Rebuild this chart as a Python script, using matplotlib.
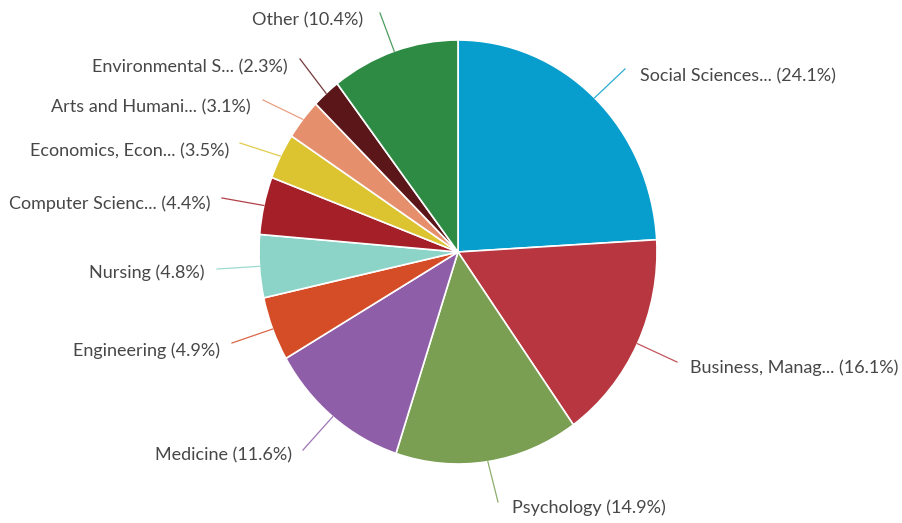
import numpy as np
import matplotlib.pyplot as plt

# data
subjects = ['Social Sciences...', 'Business, Manag...', 'Psychology', 'Medicine',
            'Engineering', 'Nursing', 'Computer Scienc...', 'Economics, Econ...',
            'Arts and Humani...', 'Environmental S...', 'Other']
shares = [24.1, 16.1, 14.9, 11.6, 4.9, 4.8, 4.4, 3.5, 3.1, 2.3, 10.4]
colors = ['#079dcc', '#b8363f', '#7a9f52', '#8e5ea8', '#d44d27', '#8dd4c8',
          '#a51f28', '#dcc330', '#e58f6d', '#5a1618', '#2e8b44']

# layout in image pixels (from top-left): pie centre / radii, label anchors and leader ends
W, H = 903, 523
CX, CY, RX, RY = 458, 252, 199, 212
label_xy = [(640, 76), (690, 368), (512, 508), (292, 455), (220, 351), (205, 273),
            (211, 204), (229, 151), (251, 107), (288, 67), (363, 20)]
line_end = [(625, 69), (677, 362), (498, 502), (303, 450), (232, 343), (217, 269),
            (222, 198), (240, 143), (263, 100), (300, 59), (380, 13)]


def px(p):
    return ((p[0] - CX) / RX, (CY - p[1]) / RY)


fig = plt.figure(figsize=(W / 100, H / 100), dpi=100)
ax = fig.add_axes([0, 0, 1, 1])
wedges, _ = ax.pie(shares, colors=colors, startangle=90, counterclock=False,
                   wedgeprops=dict(edgecolor='white', linewidth=1.2))
ax.set_aspect('auto')
ax.set_xlim(-CX / RX, (W - CX) / RX)
ax.set_ylim(-(H - CY) / RY, CY / RY)
ax.axis('off')

for w, name, val, txt, end in zip(wedges, subjects, shares, label_xy, line_end):
    mid = np.deg2rad((w.theta1 + w.theta2) / 2)
    start = (np.cos(mid), np.sin(mid))
    ex, ey = px(end)
    ax.plot([start[0], ex], [start[1], ey], color=w.get_facecolor(), lw=0.9, alpha=0.85)
    tx, ty = px(txt)
    ha = 'left' if tx > 0 else 'right'
    ax.text(tx, ty, f'{name} ({val}%)', ha=ha, va='center', fontsize=13,
            family=['Lato', 'DejaVu Sans'], color='#474747')

fig.savefig('out.png', dpi=100)
